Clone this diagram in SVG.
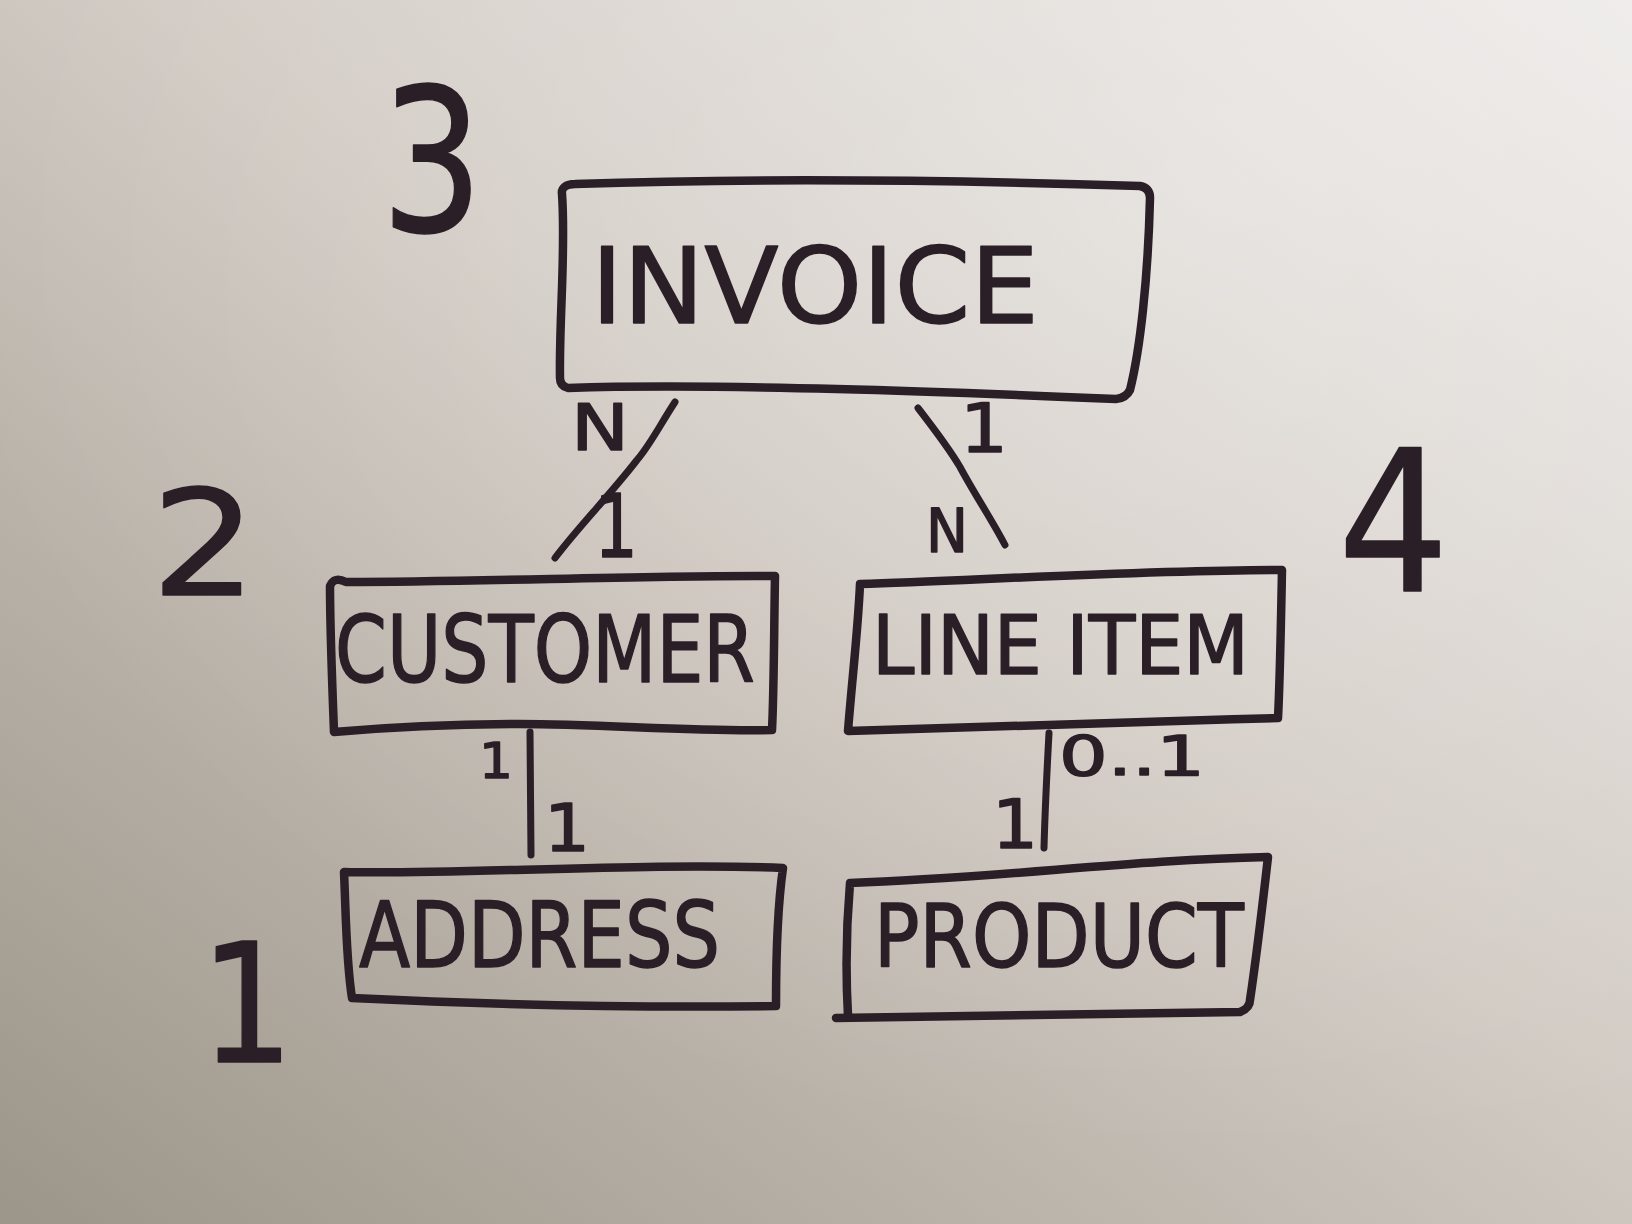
<svg xmlns="http://www.w3.org/2000/svg" width="1632" height="1224" viewBox="0 0 1632 1224">
  <defs>
    <linearGradient id="bg" x1="1" y1="0" x2="0" y2="1">
      <stop offset="0" stop-color="#ece9e7"/>
      <stop offset="0.45" stop-color="#d2cbc4"/>
      <stop offset="1" stop-color="#9c9589"/>
    </linearGradient>
    <radialGradient id="glow" cx="0.75" cy="0.15" r="0.8">
      <stop offset="0" stop-color="#ffffff" stop-opacity="0.25"/>
      <stop offset="1" stop-color="#ffffff" stop-opacity="0"/>
    </radialGradient>
    <style>
      .box { fill: none; stroke: #2a1f27; stroke-width: 8.5; stroke-linejoin: round; stroke-linecap: round; }
      .line { fill: none; stroke: #2a1f27; stroke-width: 7; stroke-linecap: round; }
      .t { font-family: "DejaVu Sans", "Liberation Sans", sans-serif; fill: #2a1f27; stroke: #2a1f27; stroke-width: 1.5; stroke-linejoin: round; }
    </style>
  </defs>
  <rect width="1632" height="1224" fill="url(#bg)"/>
  <rect width="1632" height="1224" fill="url(#glow)"/>

  <g id="annotations">
    <text class="t" x="381" y="231" font-size="200" textLength="102" lengthAdjust="spacingAndGlyphs">3</text>
    <text class="t" x="151" y="595" font-size="146" textLength="106" lengthAdjust="spacingAndGlyphs">2</text>
    <text class="t" x="1338" y="591" font-size="196" textLength="111" lengthAdjust="spacingAndGlyphs">4</text>
    <text class="t" x="200" y="1062" font-size="165" textLength="94" lengthAdjust="spacingAndGlyphs">1</text>
  </g>

  <g id="connectors">
    <path class="line" d="M 675,402 C 660,425 650,445 637,460 C 610,495 580,525 555,558"/>
    <path class="line" d="M 918,408 C 935,430 950,450 960,467 C 975,495 992,520 1005,545"/>
    <path class="line" d="M 530,732 L 531,855"/>
    <path class="line" d="M 1049,733 C 1047,770 1045,810 1044,848"/>
    <text class="t" x="571" y="450" font-size="64" textLength="58" lengthAdjust="spacingAndGlyphs">N</text>
    <text class="t" x="594" y="557" font-size="88" textLength="44" lengthAdjust="spacingAndGlyphs">1</text>
    <text class="t" x="960" y="452" font-size="67" textLength="48" lengthAdjust="spacingAndGlyphs">1</text>
    <text class="t" x="926" y="552" font-size="60" textLength="42" lengthAdjust="spacingAndGlyphs">N</text>
    <text class="t" x="479" y="778" font-size="50" textLength="34" lengthAdjust="spacingAndGlyphs">1</text>
    <text class="t" x="544" y="851" font-size="66" textLength="46" lengthAdjust="spacingAndGlyphs">1</text>
    <text class="t" x="1059" y="775" font-size="56" textLength="146" lengthAdjust="spacingAndGlyphs">0..1</text>
    <text class="t" x="992" y="848" font-size="68" textLength="46" lengthAdjust="spacingAndGlyphs">1</text>
  </g>

  <g id="invoice">
    <path class="box" d="M 562,194 C 561,188 566,184 575,184 C 750,178 950,180 1140,186 Q 1150,188 1150,198 C 1148,280 1140,350 1130,390 Q 1126,398 1116,399 C 950,392 720,383 568,388 Q 560,386 560,378 C 559,320 566,250 562,194 Z"/>
    <text class="t" x="591" y="323" font-size="106" textLength="448" lengthAdjust="spacingAndGlyphs">INVOICE</text>
  </g>

  <g id="customer">
    <path class="box" d="M 330,586 Q 334,576 346,582 C 480,582 650,575 775,576 C 774,630 774,690 772,730 C 700,732 600,724 520,724 C 440,724 380,728 334,732 C 332,680 330,620 330,586 Z"/>
    <text class="t" x="335" y="682" font-size="93" textLength="420" lengthAdjust="spacingAndGlyphs">CUSTOMER</text>
  </g>

  <g id="line-item">
    <path class="box" d="M 860,584 C 980,580 1150,570 1282,570 C 1281,620 1280,680 1278,718 C 1130,722 980,728 848,731 C 852,680 858,630 860,584 Z"/>
    <text class="t" x="872" y="674" font-size="82" textLength="377" lengthAdjust="spacingAndGlyphs">LINE ITEM</text>
  </g>

  <g id="address">
    <path class="box" d="M 344,872 C 450,875 650,862 783,868 C 777,910 776,960 776,1006 C 640,1008 480,1004 352,998 C 346,960 346,915 344,872 Z"/>
    <text class="t" x="359" y="967" font-size="90" textLength="361" lengthAdjust="spacingAndGlyphs">ADDRESS</text>
  </g>

  <g id="product">
    <path class="box" d="M 836,1018 L 1240,1012 Q 1250,1008 1250,1000 C 1256,960 1262,910 1268,857 C 1130,860 1000,878 850,883 C 846,930 846,980 848,1016"/>
    <text class="t" x="874" y="967" font-size="88" textLength="370" lengthAdjust="spacingAndGlyphs">PRODUCT</text>
  </g>
</svg>
